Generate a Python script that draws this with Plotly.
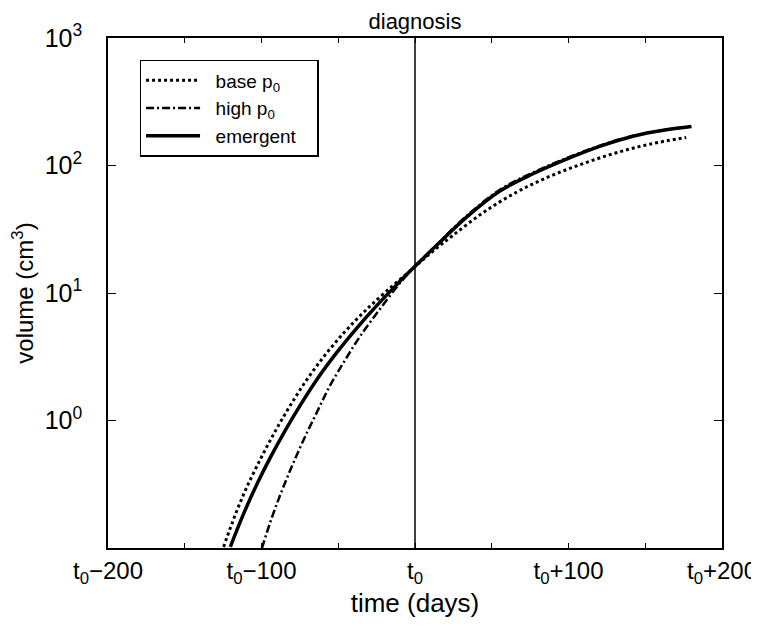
import plotly.graph_objects as go

# days relative to diagnosis (t0) and tumour volume in cm^3
base_t = [-124.7, -117.1, -109.5, -100.8, -92.2, -82.4, -71.5, -59.6, -46.6, -33.6, -18.4, 0,
          11.9, 25, 44.4, 66.1, 87.8, 109.5, 131.2, 152.8, 176.7]
base_v = [0.102, 0.182, 0.301, 0.495, 0.778, 1.245, 2.004, 3.148, 4.83, 7.03, 10.38, 16.1,
          21.4, 28.5, 42.7, 61.7, 82.2, 103.5, 125.9, 146.9, 166.0]

high_t = [-99.7, -93.2, -86.7, -80.2, -72.7, -63.9, -55.3, -45.5, -35.8, -22.8, -9.8, 0,
          11.9, 33.6, 55.3, 76.9, 98.7, 120.3, 142, 163.7, 180]
high_v = [0.100, 0.174, 0.282, 0.437, 0.700, 1.161, 1.884, 2.985, 4.571, 7.50, 11.97, 16.18,
          22.5, 40.2, 64.6, 88.1, 114.3, 142.9, 171.0, 191.0, 202.3]

emer_t = [-120.3, -111.7, -103.0, -94.3, -84.6, -74.8, -63.9, -50.9, -37.9, -26.0, -13.0, 0,
          11.9, 33.6, 55.3, 76.9, 98.7, 120.3, 142, 163.7, 180]
emer_v = [0.102, 0.185, 0.316, 0.511, 0.834, 1.315, 2.10, 3.42, 5.31, 7.71, 11.27, 16.18,
          22.3, 39.4, 63.1, 86.1, 112.2, 141.3, 169.8, 190.5, 202.3]

x_tickvals = [-200, -150, -100, -50, 0, 50, 100, 150, 200]
x_ticktext = ["t<sub>0</sub>\u2212200", "", "t<sub>0</sub>\u2212100", "", "t<sub>0</sub>",
              "", "t<sub>0</sub>+100", "", "t<sub>0</sub>+200"]
y_tickvals = [1, 10, 100, 1000]
y_ticktext = ["10<sup>0</sup>", "10<sup>1</sup>", "10<sup>2</sup>", "10<sup>3</sup>"]

FONT = "Liberation Sans, Arial, sans-serif"
GAP = "\u00a0\u00a0"        # room between legend sample and label
PAD = "\u00a0\u00a0\u00a0"  # room to the right of the longest label

fig = go.Figure()

fig.add_trace(go.Scatter(x=base_t, y=base_v, mode="lines", name=GAP + "base p<sub>0</sub>",
                         line=dict(color="black", width=3, dash="3px,3px"), line_shape="spline"))
fig.add_trace(go.Scatter(x=high_t, y=high_v, mode="lines", name=GAP + "high p<sub>0</sub>",
                         line=dict(color="black", width=2.5, dash="8px,3px,2px,3px"), line_shape="spline"))
fig.add_trace(go.Scatter(x=emer_t, y=emer_v, mode="lines", name=GAP + "emergent" + PAD,
                         line=dict(color="black", width=3.5), line_shape="spline"))

# diagnosis line at t0
fig.add_vline(x=0, line=dict(color="black", width=1.5))

# the page body adds an 8px offset, so margins are shifted to compensate
fig.update_layout(
    width=759, height=628,
    margin=dict(l=100, r=45, t=30, b=88),
    paper_bgcolor="white", plot_bgcolor="white",
    font=dict(family=FONT, color="black", size=22),
    title=dict(text="diagnosis", x=0.5, xref="paper", xanchor="center",
               y=1 - 6 / 628, yref="container", yanchor="top", pad=dict(t=0),
               font=dict(size=22)),
    legend=dict(x=0.0514, y=0.957, xanchor="left", yanchor="top",
                bordercolor="black", borderwidth=1.5, bgcolor="white",
                font=dict(size=19), tracegroupgap=0, itemwidth=54),
    showlegend=True,
)

fig.update_xaxes(range=[-200, 200], tickvals=x_tickvals, ticktext=x_ticktext,
                 ticks="inside", ticklen=5, tickcolor="black", tickwidth=1,
                 showline=True, linecolor="black", linewidth=1.5, mirror="ticks",
                 showgrid=False, zeroline=False, tickfont=dict(size=24),
                 automargin=False,
                 title=dict(text="time (days)", font=dict(size=26), standoff=2))
fig.update_yaxes(type="log", range=[-1, 3], tickvals=y_tickvals, ticktext=y_ticktext,
                 ticks="inside", ticklen=8, tickcolor="black", tickwidth=1,
                 showline=True, linecolor="black", linewidth=1.5, mirror="ticks",
                 showgrid=False, zeroline=False, tickfont=dict(size=25),
                 ticklabelstandoff=19, automargin=False,
                 title=dict(text="volume (cm<sup>3</sup>)", font=dict(size=24), standoff=8))

fig.write_html("out.html")
